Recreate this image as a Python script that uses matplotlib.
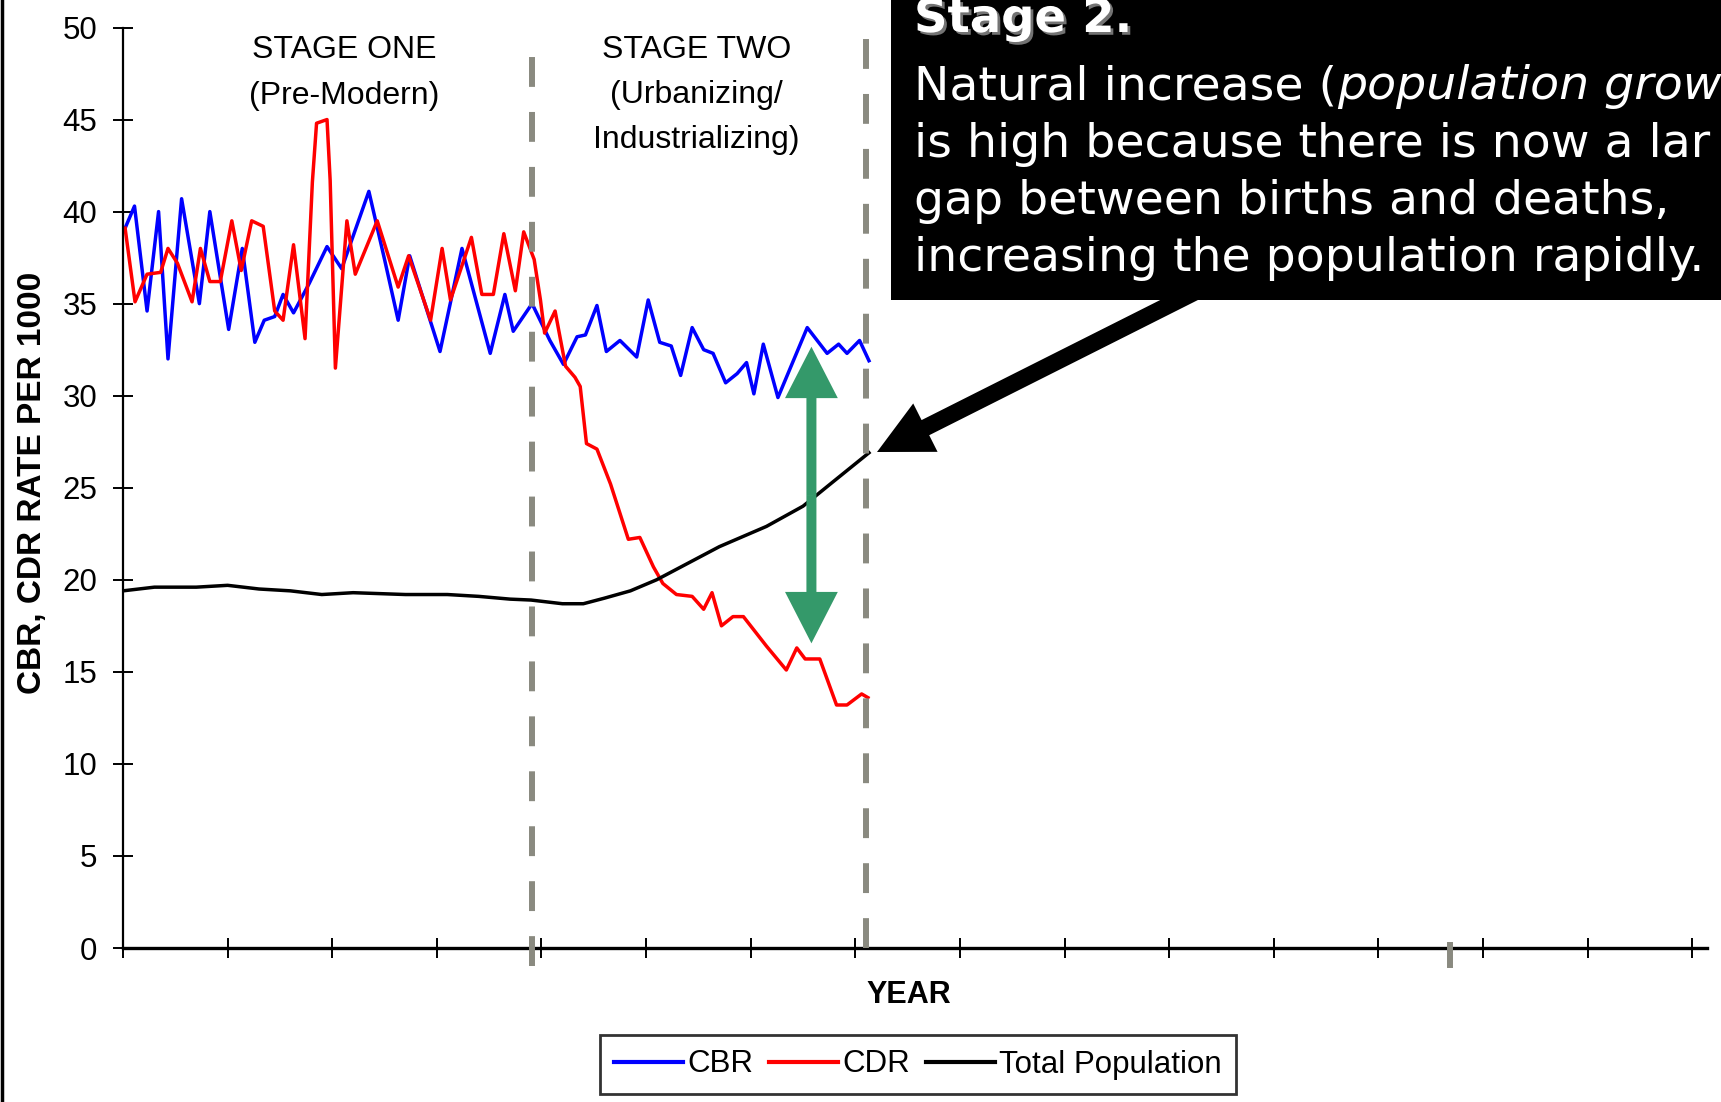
import matplotlib
matplotlib.use("Agg")
import matplotlib.pyplot as plt
import matplotlib.patheffects as pe
from matplotlib.patches import Rectangle, FancyArrowPatch, ArrowStyle
from matplotlib.lines import Line2D

plt.rcParams['font.family'] = ['Liberation Sans', 'DejaVu Sans']

W, H = 1721, 1102

# x is in "year" units, one x tick every 10
cbr_x = [0.2, 1.1, 2.3, 3.4, 4.3, 5.6, 7.3, 8.3, 10.1, 11.4, 12.6, 13.5, 14.5, 15.3, 16.3,
         17.8, 19.5, 20.9, 23.5, 25.0, 26.3, 27.4, 30.3, 32.4, 35.1, 36.5, 37.3, 39.1, 40.8,
         42.1, 43.4, 44.2, 45.3, 46.2, 47.5, 49.1, 50.2, 51.3, 52.4, 53.3, 54.4, 55.5, 56.4,
         57.6, 58.7, 59.6, 60.3, 61.2, 62.6, 65.4, 67.3, 68.4, 69.2, 70.4, 71.3]
cbr_y = [39.1, 40.3, 34.6, 40.0, 32.0, 40.7, 35.0, 40.0, 33.6, 38.0, 32.9, 34.1, 34.3, 35.5, 34.5,
         36.1, 38.1, 36.9, 41.1, 37.4, 34.1, 37.6, 32.4, 38.0, 32.3, 35.5, 33.5, 35.0, 33.0,
         31.7, 33.2, 33.3, 34.9, 32.4, 33.0, 32.1, 35.2, 32.9, 32.7, 31.1, 33.7, 32.5, 32.3,
         30.7, 31.2, 31.8, 30.1, 32.8, 29.9, 33.7, 32.3, 32.8, 32.3, 33.0, 31.9]

cdr_x = [0.2, 1.15, 2.3, 3.6, 4.3, 5.2, 6.6, 7.4, 8.3, 9.3, 10.4, 11.3, 12.3, 13.4, 14.5,
         15.3, 16.3, 17.4, 18.1, 18.5, 19.5, 19.8, 20.3, 21.4, 22.2, 24.3, 26.3, 27.3, 29.4,
         30.5, 31.3, 33.3, 34.3, 35.4, 36.4, 37.5, 38.3, 39.3, 39.9, 40.3, 41.3, 42.3, 43.2,
         43.7, 44.3, 45.3, 46.6, 48.3, 49.4, 50.7, 51.6, 52.9, 54.4, 55.5, 56.3, 57.2, 58.3,
         59.3, 61.5, 63.4, 64.4, 65.2, 66.6, 68.2, 69.2, 70.6, 71.2]
cdr_y = [39.1, 35.1, 36.6, 36.7, 38.0, 37.2, 35.1, 38.0, 36.2, 36.2, 39.5, 36.8, 39.5, 39.2, 34.6,
         34.1, 38.2, 33.1, 41.6, 44.8, 45.0, 41.7, 31.5, 39.5, 36.6, 39.5, 35.9, 37.6, 34.1,
         38.0, 35.2, 38.6, 35.5, 35.5, 38.8, 35.7, 38.9, 37.4, 35.2, 33.4, 34.6, 31.6, 31.0,
         30.5, 27.4, 27.1, 25.2, 22.2, 22.3, 20.7, 19.8, 19.2, 19.1, 18.4, 19.3, 17.5, 18.0,
         18.0, 16.4, 15.1, 16.3, 15.7, 15.7, 13.2, 13.2, 13.8, 13.6]

pop_x = [0, 3, 7, 10, 13, 16, 19, 22, 27, 31, 34, 37, 39, 42, 44, 46, 48.5, 51, 54, 57,
         61.5, 65, 67.6, 71.3]
pop_y = [19.4, 19.6, 19.6, 19.7, 19.5, 19.4, 19.2, 19.3, 19.2, 19.2, 19.1, 18.95, 18.9, 18.7,
         18.7, 19.0, 19.4, 20.0, 20.9, 21.8, 22.9, 24.0, 25.2, 26.9]

stage_lines = [39.1, 71.0]
gap_x = 65.8
gap_top, gap_bottom = 32.66, 16.55

stage_one = ["STAGE ONE", "(Pre-Modern)"]
stage_two = ["STAGE TWO", "(Urbanizing/", "Industrializing)"]

fig = plt.figure(figsize=(W / 100, H / 100), dpi=100)
ax = fig.add_axes([123 / W, 1 - 948 / H, 1584 / W, 920.5 / H])

ax.plot(cbr_x, cbr_y, color='#0000ff', lw=2.5, label='CBR')
ax.plot(cdr_x, cdr_y, color='#ff0000', lw=2.5, label='CDR')
ax.plot(pop_x, pop_y, color='black', lw=2.5, label='Total Population')

ax.set_xlim(0, 151.4)
ax.set_ylim(0, 50)
ax.set_xticks(range(0, 151, 10))
ax.set_xticklabels([])
ax.set_yticks(range(0, 51, 5))
ax.tick_params(axis='both', direction='inout', length=15, width=1.4, labelsize=22.5, pad=11)
for s in ['top', 'right']:
    ax.spines[s].set_visible(False)
ax.spines['left'].set_linewidth(1.6)
ax.spines['bottom'].set_linewidth(2.4)

# stage boundaries
dash_col = '#8a8a80'
ax.axvline(stage_lines[0], ymin=-0.0196, ymax=0.9755, color=dash_col, lw=4.3,
           dashes=(5, 4.2), clip_on=False, zorder=3)
ax.axvline(stage_lines[1], ymin=0, ymax=0.997, color=dash_col, lw=4.3,
           dashes=(5, 4.2), clip_on=False, zorder=3)
ax.axvline(126.8, ymin=-0.019, ymax=0.003, color=dash_col, lw=4.3, clip_on=False, zorder=3)

for i, s in enumerate(stage_one):
    ax.text(21.1, 48.8 - 2.5 * i, s, ha='center', va='center', fontsize=23)
for i, s in enumerate(stage_two):
    ax.text(54.8, 48.8 - 2.45 * i, s, ha='center', va='center', fontsize=23)

# green double arrow (gap between births and deaths)
green = '#34996a'
mid = (gap_top + gap_bottom) / 2
for end in [gap_top, gap_bottom]:
    ax.add_patch(FancyArrowPatch((gap_x, mid), (gap_x, end),
                                 arrowstyle=ArrowStyle.Simple(head_length=37, head_width=38,
                                                              tail_width=7.2),
                                 mutation_scale=1, color=green, lw=0,
                                 shrinkA=0, shrinkB=0, zorder=4))

fig.text(33 / W, 1 - 483 / H, "CBR, CDR RATE PER 1000", rotation=90, ha='center',
         va='center', fontsize=24, fontweight='bold')
fig.text(909 / W, 1 - 995 / H, "YEAR", ha='center', va='center', fontsize=22,
         fontweight='bold')

leg = ax.legend(loc='center', bbox_to_anchor=(918 / W, 1 - 1064.5 / H),
                bbox_transform=fig.transFigure, ncol=3, fontsize=22.5, frameon=True,
                fancybox=False, edgecolor='black', handlelength=2.2, handletextpad=0.15,
                columnspacing=0.5, borderpad=0.45, borderaxespad=0)
leg.get_frame().set_linewidth(2)
for l in leg.get_lines():
    l.set_linewidth(3)

# left border of the slide
fig.add_artist(Line2D([0.0012, 0.0012], [0, 1], transform=fig.transFigure,
                      color='black', lw=2.5))

# black call-out box
fig.add_artist(Rectangle((891 / W, 1 - 300 / H), 1 - 891 / W + 0.01, 300 / H + 0.01,
                         transform=fig.transFigure, facecolor='black', edgecolor='none',
                         zorder=5))
fig.add_artist(FancyArrowPatch((1195 / W, 1 - 292 / H), (877 / W, 1 - 452 / H),
                               transform=fig.transFigure,
                               arrowstyle=ArrowStyle.Simple(head_length=39, head_width=39,
                                                            tail_width=12.2),
                               mutation_scale=1, color='black', lw=0,
                               shrinkA=0, shrinkB=0, zorder=5))

box_font = ['DejaVu Sans']
fs = 34.1
fig.text(914 / W, 1 - 32 / H, "Stage 2.", color='white', fontsize=33.5, fontweight='bold',
         family=box_font, va='baseline', zorder=6,
         path_effects=[pe.withSimplePatchShadow(offset=(2, -2), shadow_rgbFace=(0.45, 0.45, 0.45),
                                                alpha=1.0)])
# the call-out is cropped at the right edge of the slide, as in the source
t1 = fig.text(914 / W, 1 - 99 / H, "Natural increase (", color='white', fontsize=fs,
              family=box_font, va='baseline', zorder=6)
r = fig.canvas.get_renderer()
x1 = t1.get_window_extent(renderer=r).x1
fig.text(x1 / fig.bbox.width, 1 - 99 / H, "population grow", color='white',
         fontsize=fs, style='italic', family=box_font, va='baseline', zorder=6)
box_lines = ["is high because there is now a lar",
             "gap between births and deaths,",
             "increasing the population rapidly."]
for i, s in enumerate(box_lines):
    fig.text(914 / W, 1 - (157 + 57 * i) / H, s, color='white', fontsize=fs,
             family=box_font, va='baseline', zorder=6)

fig.savefig("out.png", dpi=100)
